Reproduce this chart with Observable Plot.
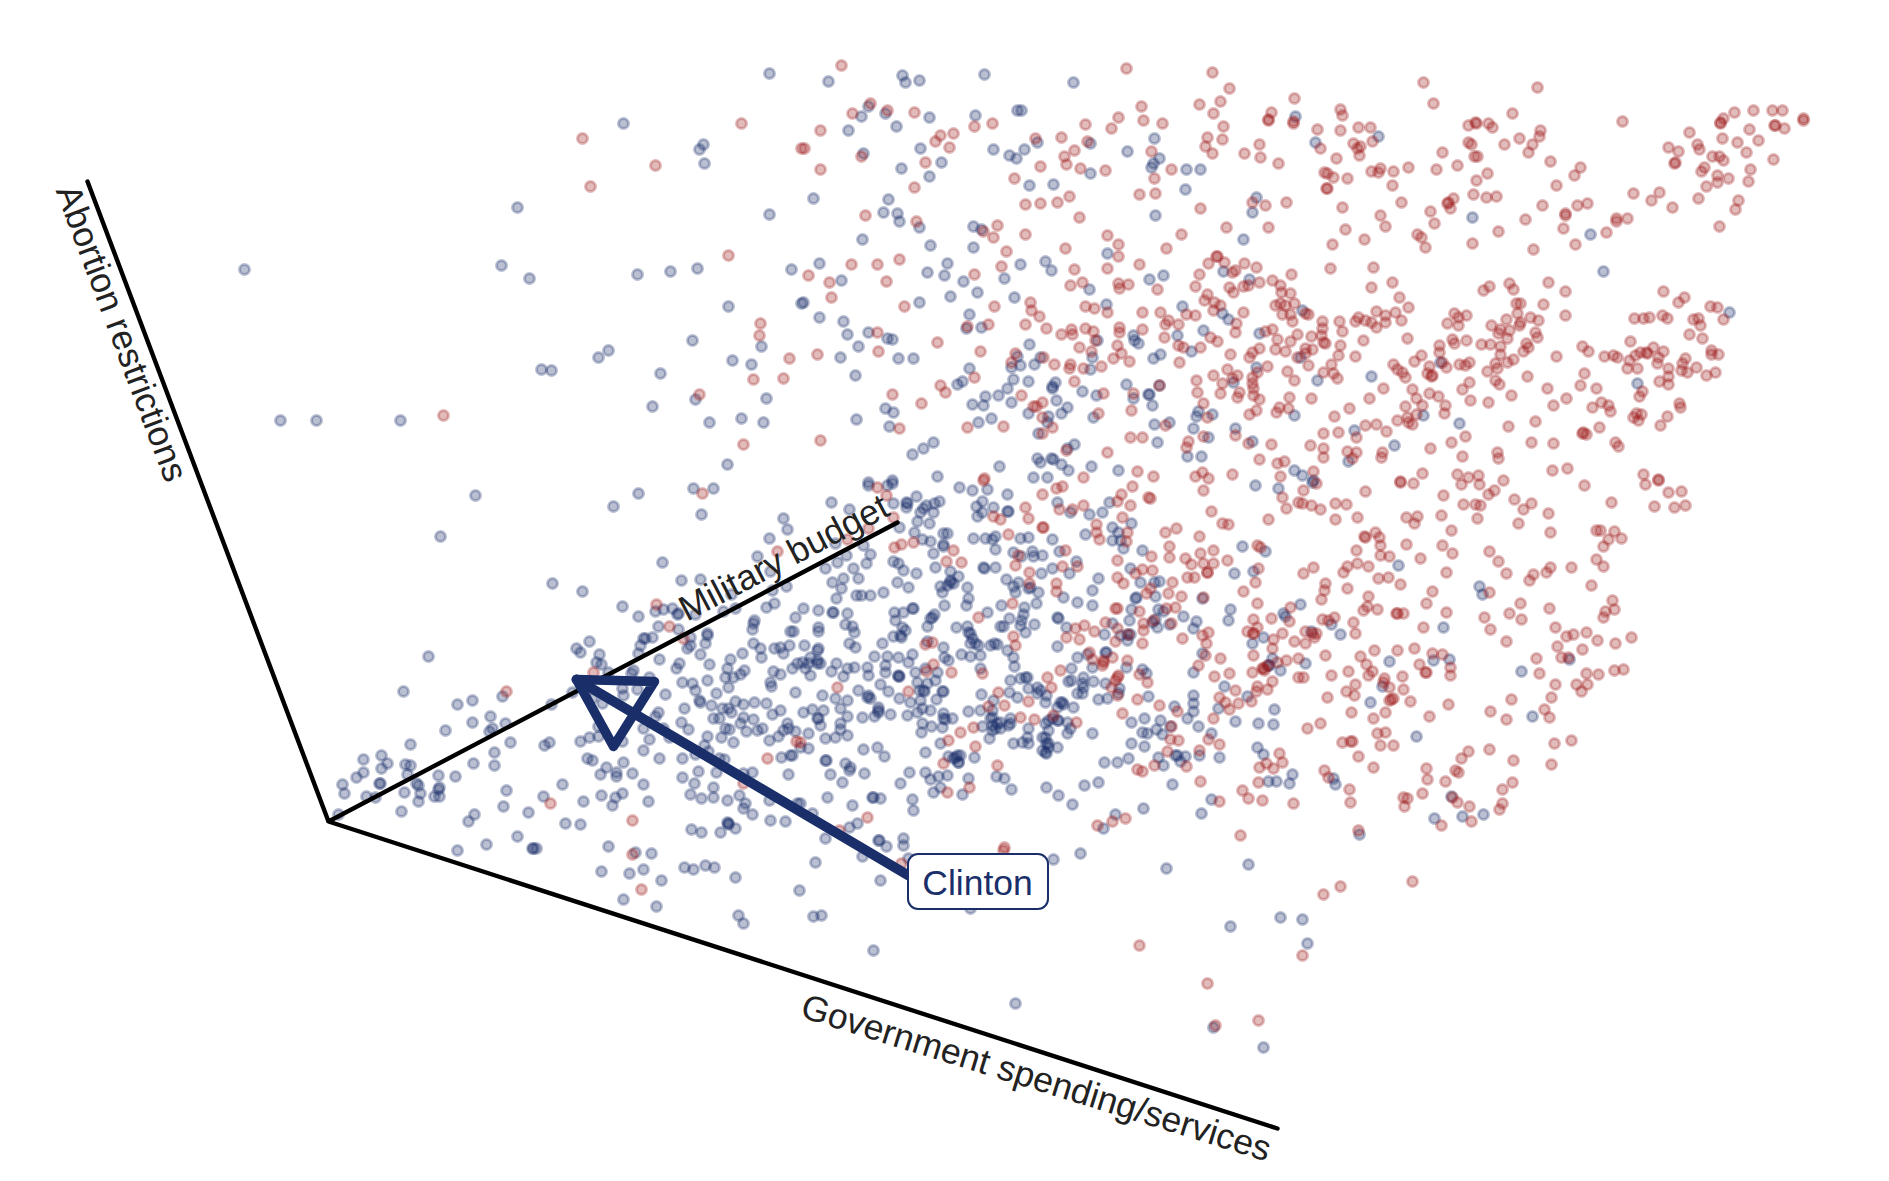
<!DOCTYPE html>
<html>
<head>
<meta charset="utf-8">
<script src="https://cdn.jsdelivr.net/npm/d3@7"></script>
<script src="https://cdn.jsdelivr.net/npm/@observablehq/plot@0.6"></script>
<style>html,body{margin:0;padding:0;background:#fff;overflow:hidden}svg{display:block}</style>
</head>
<body>
<div id="chart"></div>
<script>
const demUpperLeft = [[769,73],[623,123],[703,144],[699,149],[704,163],[517,207],[769,214],[244,269],[501,265],[529,278],[637,274],[670,271],[697,268],[791,269],[728,306],[801,303],[692,340],[761,346],[732,360],[751,364],[608,350],[598,357],[541,369],[551,370],[660,373],[695,399],[766,398],[652,406],[709,422],[741,418],[763,422],[280,420],[316,420],[400,420],[727,464]];
const repUpperLeft = [[582,138],[741,123],[801,148],[655,165],[590,186],[728,255],[760,323],[759,335],[789,358],[753,379],[783,378],[699,394],[443,415],[743,444]];
const demLowerLeft = [[475,495],[440,536],[613,506],[638,493],[693,488],[713,488],[701,514],[783,518],[787,529],[769,538],[662,562],[757,556],[552,583],[582,591],[681,580],[700,579],[770,571],[731,594],[786,586],[772,590],[766,607],[774,603],[622,606],[638,616],[655,611],[663,609],[672,608],[678,613],[677,614],[695,614],[723,611],[735,608],[658,626],[678,629],[643,638],[645,638],[652,637],[640,645],[690,637],[707,635],[707,633],[705,643],[687,648],[690,645],[753,643],[760,648],[761,657],[754,620],[753,623],[752,629],[795,617],[790,631],[793,631],[774,648],[780,647],[789,645],[783,653],[742,653],[730,659],[700,654],[709,664],[659,659],[679,663],[676,668],[638,653],[589,641],[576,648],[580,652],[599,654],[596,662],[601,664],[428,656],[727,668],[725,677],[733,677],[740,674],[744,670],[773,671],[780,674],[792,668],[797,663],[633,670],[631,673],[608,672],[649,677],[682,682],[692,683],[695,690],[707,680],[728,687],[770,682],[771,686],[716,693],[622,688],[637,689],[623,695],[665,694],[699,700],[700,702],[684,708],[711,705],[722,708],[728,708],[735,701],[743,704],[754,702],[766,703],[795,692],[731,712],[780,710],[743,717],[753,719],[772,714],[713,718],[719,718],[681,722],[658,712],[655,716],[740,723],[746,731],[757,730],[762,728],[725,728],[729,729],[688,729],[707,736],[721,737],[733,742],[769,740],[778,736],[787,723],[788,728],[783,730],[795,731],[643,728],[663,728],[649,739],[669,737],[704,745],[708,751],[643,750],[659,758],[682,758],[695,754],[719,758],[724,759],[781,757],[790,755],[792,755],[788,774],[698,771],[682,777],[716,772],[743,773],[752,772],[694,783],[713,787],[713,797],[690,794],[701,798],[727,800],[739,795],[745,803],[743,808],[752,814],[770,820],[785,821],[769,800],[797,803],[727,822],[728,823],[735,828],[691,829],[701,832],[720,832],[403,691],[457,704],[472,700],[502,696],[551,704],[572,692],[490,716],[472,722],[505,723],[492,728],[489,731],[445,730],[410,744],[510,742],[549,742],[544,745],[580,741],[589,737],[598,736],[598,726],[602,703],[592,698],[622,741],[494,752],[381,755],[363,759],[387,763],[381,768],[363,772],[356,777],[405,764],[410,765],[407,774],[473,763],[494,765],[438,775],[455,776],[342,784],[380,783],[379,783],[416,783],[418,785],[439,787],[438,789],[344,793],[366,796],[375,797],[404,792],[420,793],[418,801],[434,796],[439,796],[401,811],[338,814],[506,790],[503,806],[543,796],[562,784],[583,801],[528,812],[474,814],[468,821],[601,795],[615,797],[622,793],[612,805],[648,801],[600,774],[616,772],[616,776],[632,773],[643,784],[606,767],[623,762],[587,758],[592,760],[565,823],[580,824],[517,836]];
const repLowerLeft = [[702,493],[777,551],[656,604],[669,626],[683,638],[593,672],[506,691],[796,741],[767,758],[743,783],[550,803],[632,820]];
const demCentreLeft = [[831,502],[849,509],[868,485],[887,485],[892,483],[893,503],[906,502],[907,503],[916,496],[906,507],[926,505],[934,503],[939,501],[923,508],[920,512],[933,512],[917,521],[929,523],[899,527],[914,532],[959,487],[972,490],[987,489],[1007,494],[982,501],[976,506],[993,507],[1007,511],[1008,511],[977,516],[982,512],[973,538],[985,538],[992,539],[995,536],[995,549],[943,533],[947,533],[943,544],[943,546],[922,539],[930,541],[933,553],[983,567],[984,568],[995,567],[935,567],[950,571],[958,576],[950,580],[953,583],[940,586],[947,585],[967,587],[942,592],[968,598],[966,605],[944,605],[833,612],[832,612],[818,610],[803,608],[847,613],[845,624],[852,626],[854,632],[853,568],[843,578],[858,578],[832,582],[841,588],[836,598],[856,595],[861,595],[870,595],[883,592],[897,582],[908,587],[916,573],[903,570],[898,563],[893,561],[870,554],[866,563],[846,555],[837,562],[825,568],[835,543],[863,545],[894,612],[903,612],[912,608],[913,608],[895,620],[902,627],[905,630],[900,635],[901,637],[893,636],[927,626],[930,618],[932,617],[934,614],[956,627],[967,626],[970,633],[975,643],[972,638],[978,645],[990,645],[997,644],[994,643],[961,654],[970,656],[980,655],[1007,650],[1013,657],[1014,666],[980,668],[943,647],[944,657],[948,660],[927,641],[882,643],[874,656],[887,656],[898,657],[908,662],[912,654],[885,665],[885,672],[898,676],[899,676],[915,672],[925,668],[937,672],[935,680],[927,683],[917,682],[880,684],[888,691],[919,690],[924,691],[943,691],[942,691],[899,698],[910,702],[920,700],[936,699],[868,695],[867,697],[870,698],[858,690],[878,707],[878,712],[890,714],[874,716],[862,717],[907,715],[917,712],[922,708],[930,710],[943,713],[945,719],[952,718],[922,723],[931,726],[921,732],[942,727],[940,743],[925,752],[957,755],[953,758],[948,756],[960,755],[958,762],[974,757],[968,778],[947,775],[938,776],[930,779],[925,772],[909,772],[900,783],[940,787],[933,792],[962,794],[877,747],[884,756],[863,749],[864,773],[845,763],[850,767],[849,770],[842,782],[830,774],[825,760],[826,760],[827,797],[872,797],[873,797],[880,798],[852,805],[912,799],[913,810],[857,823],[849,827],[812,813],[800,803],[903,838],[878,840],[825,838],[817,650],[818,648],[804,645],[817,660],[810,657],[802,662],[808,663],[817,663],[820,663],[805,668],[810,675],[831,671],[836,663],[847,668],[843,676],[854,667],[867,667],[868,675],[822,695],[835,698],[847,700],[840,708],[812,709],[823,710],[803,712],[817,718],[820,725],[847,716],[840,723],[840,729],[808,733],[847,735],[835,737],[825,738],[808,748],[800,747],[818,627],[818,631],[849,643],[855,647]];
const demCentreRight = [[1020,538],[1028,537],[1013,552],[1032,551],[1021,556],[1033,556],[1042,555],[1052,539],[1059,551],[1052,568],[1041,573],[1069,573],[1076,561],[1006,579],[1018,582],[1015,592],[1013,586],[1028,588],[1038,592],[1036,603],[1024,607],[1023,614],[1021,620],[1001,605],[987,612],[1009,618],[1000,626],[1003,626],[1034,624],[1020,625],[1025,632],[1057,617],[1058,618],[1077,602],[1092,605],[1092,590],[1098,578],[1063,597],[1057,502],[1070,512],[1089,514],[1102,512],[1109,502],[1085,534],[1112,527],[1112,540],[1118,532],[1120,540],[1123,548],[1131,523],[1142,550],[1130,568],[1140,582],[1154,582],[1159,581],[1155,596],[1135,598],[1136,597],[1131,609],[1158,609],[1163,611],[1129,620],[1152,622],[1155,619],[1157,627],[1183,616],[1196,621],[1193,628],[1169,624],[1130,634],[1120,635],[1127,634],[1104,634],[1112,623],[1066,627],[1127,640],[1057,646],[1077,657],[1106,652],[1105,652],[1092,667],[1087,654],[1071,668],[1126,667],[1142,669],[1146,673],[1093,681],[1083,677],[1068,681],[1071,680],[1082,683],[1083,687],[1077,693],[1082,693],[1105,683],[1119,688],[1098,699],[1107,698],[1118,693],[1148,696],[1060,702],[1063,704],[1045,702],[1037,687],[1037,693],[1046,695],[1028,688],[1025,677],[1020,678],[1010,680],[1027,677],[1017,697],[1009,692],[981,694],[993,700],[992,710],[980,710],[968,711],[990,718],[1010,718],[1008,725],[992,725],[995,728],[1000,728],[982,726],[989,738],[1028,728],[1027,737],[1028,743],[1013,743],[1022,742],[1045,723],[1048,730],[1045,737],[1046,743],[1045,752],[1057,747],[1048,747],[1062,702],[1058,720],[1067,722],[1070,728],[1067,733],[1073,707],[1092,733],[1046,753],[1040,690]];
const demDenseCores = [[992,717],[997,723],[992,730],[1000,722],[1010,723],[970,643],[968,632],[923,690],[898,675],[943,718],[955,757],[958,762],[1057,707],[1057,720],[1052,718],[1048,720],[1042,737],[1048,743],[1042,750],[1030,587],[950,582],[878,710],[818,718],[1269,665]];
const demEastBand = [[1255,485],[1278,488],[1242,546],[1265,551],[1234,573],[1253,571],[1230,609],[1228,620],[1202,598],[1202,653],[1193,672],[1224,686],[1247,696],[1218,708],[1235,721],[1258,723],[1273,724],[1274,709],[1198,726],[1187,718],[1193,695],[1193,703],[1193,711],[1174,706],[1160,720],[1144,718],[1131,722],[1142,732],[1147,733],[1156,729],[1162,734],[1170,726],[1131,743],[1144,746],[1158,757],[1175,755],[1177,755],[1185,756],[1180,761],[1163,765],[1128,758],[1117,762],[1104,762],[1211,733],[1199,755],[1219,757],[1257,747],[1263,754],[1292,774],[1289,783],[1276,781],[1268,781],[1172,784],[1084,785],[1098,782],[1046,787],[1058,795],[1072,804],[1011,789],[1004,778],[996,776],[1143,808],[1115,814],[1103,828],[1211,799],[1201,813],[1263,637],[1252,643],[1283,613],[1285,616],[1272,658],[1268,665],[1280,670]];
const repCentre = [[877,487],[886,495],[893,517],[868,528],[847,539],[894,547],[901,544],[913,542],[953,550],[961,562],[946,561],[983,480],[993,516],[1000,519],[1008,534],[1025,507],[1028,518],[1042,494],[1043,527],[1042,527],[1056,488],[1062,486],[1083,505],[1072,509],[1059,509],[1018,555],[1015,565],[1029,572],[1029,583],[1065,550],[1062,566],[1077,566],[1056,583],[1056,591],[1012,603],[978,617],[925,644],[932,642],[933,664],[926,671],[951,672],[982,673],[908,691],[837,687],[1013,636],[1015,645],[998,692],[988,706],[1004,705],[1028,701],[1047,677],[1051,687],[1060,670],[1020,717],[1034,719],[1053,715],[1076,722],[973,727],[960,732],[948,740],[975,746],[943,763],[997,765],[969,787],[947,792],[867,817],[839,830],[800,742],[1132,486],[1121,494],[1117,501],[1130,505],[1122,517],[1096,524],[1096,532],[1099,539],[1127,532],[1126,541],[1148,497],[1150,498],[1151,556],[1117,560],[1117,577],[1123,583],[1142,569],[1152,570],[1135,573],[1172,582],[1150,588],[1146,593],[1168,593],[1181,596],[1175,607],[1166,608],[1117,608],[1115,608],[1139,611],[1105,622],[1117,628],[1143,623],[1143,630],[1153,620],[1171,623],[1075,628],[1084,625],[1094,631],[1066,637],[1079,639],[1115,641],[1128,634],[1142,643],[1182,638],[1089,652],[1092,659],[1112,657],[1103,660],[1102,665],[1127,660],[1118,675],[1115,680],[1111,687],[1117,695],[1139,674],[1147,682],[1137,699],[1159,705],[1122,713],[1177,711],[1171,726],[1170,739],[1178,740],[1167,751],[1186,766],[1154,765],[1137,769],[1142,771],[1213,718],[1208,739],[1219,744],[1199,750],[1200,781],[1219,801],[1097,825],[1112,821],[1125,818],[1240,835],[1242,790],[1248,798],[1262,800],[1293,803],[1258,782],[1259,767],[1266,763],[1273,768],[1282,762],[1279,753],[1203,490],[1211,511],[1222,523],[1228,524],[1268,519],[1282,497],[1286,508],[1298,502],[1176,528],[1165,532],[1199,536],[1169,546],[1169,557],[1185,558],[1191,564],[1200,553],[1213,550],[1213,563],[1203,563],[1207,572],[1187,577],[1194,577],[1227,560],[1257,545],[1260,547],[1258,568],[1255,582],[1243,591],[1257,603],[1203,597],[1202,635],[1208,632],[1206,643],[1205,655],[1198,665],[1220,658],[1214,676],[1229,673],[1235,690],[1219,697],[1225,702],[1229,709],[1238,703],[1251,701],[1257,686],[1256,691],[1267,689],[1272,681],[1252,672],[1262,668],[1264,670],[1267,665],[1277,662],[1286,660],[1298,658],[1253,655],[1272,648],[1273,639],[1282,633],[1294,641],[1247,631],[1253,633],[1253,619],[1257,627],[1271,618],[1290,607],[1289,621],[1298,677]];
const repDenseCores = [[1103,662],[1117,677],[1263,668],[1253,633],[1207,572]];
const demSouthEast = [[1312,482],[1398,565],[1479,586],[1482,594],[1331,624],[1340,634],[1311,631],[1443,627],[1300,604],[1389,661],[1433,660],[1449,659],[1305,663],[1569,659],[1521,671],[1382,686],[1370,702],[1532,716],[1416,736],[1333,778],[1335,784],[1451,796],[1434,818],[1462,816],[1483,814],[1359,834]];
const repSouthEast = [[1303,490],[1316,483],[1365,491],[1400,482],[1413,483],[1443,495],[1461,484],[1479,484],[1488,494],[1494,490],[1503,480],[1584,485],[1645,484],[1658,480],[1668,492],[1681,491],[1611,502],[1654,506],[1674,507],[1685,505],[1302,503],[1311,505],[1320,509],[1335,503],[1346,504],[1335,519],[1357,517],[1406,517],[1417,516],[1414,523],[1441,515],[1463,504],[1475,504],[1480,505],[1514,499],[1523,509],[1531,503],[1548,513],[1477,518],[1518,523],[1550,532],[1451,530],[1375,532],[1364,536],[1365,537],[1379,537],[1380,545],[1356,550],[1380,555],[1389,556],[1406,544],[1442,545],[1452,553],[1489,551],[1420,558],[1498,561],[1446,572],[1506,573],[1313,567],[1347,566],[1357,563],[1368,566],[1343,572],[1303,573],[1378,578],[1388,577],[1400,584],[1325,583],[1324,590],[1321,599],[1347,588],[1368,596],[1432,591],[1426,603],[1367,606],[1363,610],[1377,609],[1396,613],[1397,613],[1403,613],[1446,612],[1489,592],[1520,603],[1509,613],[1521,619],[1484,617],[1490,629],[1506,641],[1423,627],[1322,619],[1328,620],[1334,617],[1353,622],[1355,633],[1305,631],[1312,633],[1316,633],[1314,637],[1305,643],[1325,655],[1360,656],[1374,650],[1397,650],[1414,648],[1432,653],[1442,654],[1419,664],[1425,672],[1426,672],[1450,667],[1450,675],[1402,676],[1366,664],[1372,671],[1368,675],[1348,671],[1331,675],[1303,677],[1355,684],[1384,678],[1383,682],[1389,687],[1403,689],[1346,691],[1354,695],[1327,697],[1391,699],[1393,698],[1389,700],[1410,701],[1448,704],[1351,712],[1385,712],[1373,718],[1429,716],[1320,723],[1307,728],[1377,733],[1385,732],[1342,742],[1350,741],[1352,741],[1380,745],[1393,745],[1358,756],[1373,767],[1324,770],[1328,777],[1349,789],[1350,802],[1358,830],[1468,751],[1489,749],[1461,758],[1513,760],[1426,768],[1455,770],[1458,772],[1427,779],[1445,781],[1422,793],[1512,782],[1502,789],[1502,803],[1499,809],[1407,798],[1403,797],[1404,806],[1452,797],[1457,802],[1469,806],[1471,821],[1441,825],[1490,711],[1506,719],[1511,699],[1544,709],[1549,717],[1551,697],[1555,684],[1539,673],[1536,658],[1561,657],[1568,657],[1557,646],[1555,627],[1566,636],[1573,634],[1586,632],[1597,640],[1582,649],[1615,643],[1631,637],[1603,617],[1605,611],[1614,609],[1612,600],[1549,608],[1591,585],[1596,559],[1603,566],[1571,567],[1550,567],[1546,572],[1533,574],[1529,580],[1603,546],[1608,539],[1621,538],[1614,531],[1596,530],[1600,530],[1586,673],[1598,674],[1614,670],[1623,669],[1587,684],[1576,684],[1581,691],[1554,743],[1571,740],[1551,764],[1412,881]];
const demNorthCentre = [[848,130],[896,126],[863,153],[920,148],[901,168],[941,162],[929,176],[813,198],[888,199],[883,212],[897,213],[899,221],[862,239],[919,227],[930,245],[993,149],[1009,155],[1016,158],[1024,149],[1037,142],[1090,143],[1090,173],[1127,151],[1154,138],[1159,158],[1153,163],[1151,167],[1186,169],[1200,169],[1185,189],[1155,215],[1029,185],[1053,184],[973,226],[981,229],[973,247],[1256,197],[1252,212],[1243,239],[1107,253],[1020,264],[1045,261],[1051,270],[947,263],[944,275],[927,272],[819,263],[841,280],[963,281],[1004,278],[977,292],[950,296],[1014,297],[803,302],[919,302],[1089,289],[1106,304],[1149,279],[1163,275],[1223,271],[1249,279],[1182,306],[1222,313],[1228,319],[1203,330],[1177,335],[1191,351],[1259,333],[1133,335],[1134,340],[1138,343],[1097,340],[1029,344],[819,317],[843,321],[847,334],[868,332],[887,338],[892,339],[858,346],[840,357],[898,358],[913,358],[855,375],[969,314],[966,328],[981,327],[1017,356],[1011,367],[1020,365],[1034,364],[1040,357],[1092,357],[1090,369],[1153,358],[1160,354],[969,368],[1013,379],[1028,381],[1007,388],[998,395],[957,384],[962,381],[985,396],[972,404],[983,405],[1011,402],[1055,382],[1052,386],[1052,388],[1082,391],[1096,395],[1126,384],[1148,394],[1149,394],[1133,398],[1152,405],[1159,385],[1256,367],[1233,382],[885,408],[893,412],[856,419],[889,426],[978,422],[991,418],[1028,413],[1056,400],[1067,407],[1061,413],[1048,416],[1047,422],[1093,417],[1154,424],[1169,422],[1198,411],[1196,416],[1212,414],[1193,428],[1208,437],[1235,428],[1157,442],[1252,441],[1294,415],[1038,433],[933,442],[923,448],[912,454],[1074,444],[1067,448],[1037,458],[1040,462],[1051,458],[1053,459],[1061,464],[1068,470],[1091,466],[1118,470],[999,466],[937,476],[1187,456],[1201,456],[1294,470],[892,480],[868,482],[1033,477],[1047,477]];
const repNorthCentre = [[820,130],[804,148],[861,156],[820,169],[935,141],[940,135],[953,133],[974,126],[992,123],[949,147],[925,162],[914,187],[865,215],[916,221],[997,225],[983,231],[993,237],[1025,234],[1014,178],[1040,166],[1035,138],[1061,137],[1064,156],[1066,164],[1074,150],[1080,168],[1087,141],[1105,170],[1085,124],[1111,128],[1143,120],[1162,123],[1223,126],[1207,137],[1222,139],[1205,146],[1212,153],[1151,151],[1171,169],[1154,178],[1139,194],[1155,193],[1025,204],[1040,203],[1057,202],[1069,196],[1079,217],[1200,208],[1252,202],[1265,205],[1286,202],[1226,227],[1268,227],[1181,234],[1244,153],[1259,144],[1260,157],[1278,163],[1268,120],[1293,123],[1065,248],[1107,235],[1118,244],[1118,256],[1166,248],[1139,264],[1107,268],[1074,269],[1006,251],[1001,266],[974,274],[851,264],[877,264],[899,259],[808,275],[829,282],[886,281],[831,297],[904,306],[994,306],[1070,285],[1082,282],[1118,283],[1128,284],[1119,288],[1157,289],[1199,274],[1195,286],[1208,263],[1216,256],[1217,256],[1224,262],[1232,272],[1235,270],[1244,263],[1256,267],[1259,282],[1229,287],[1233,292],[1243,286],[1248,285],[1272,280],[1291,274],[1280,285],[1281,292],[1290,293],[1207,294],[1204,300],[1214,302],[1220,305],[1213,310],[1243,312],[1275,305],[1280,303],[1285,305],[1294,303],[1282,314],[1290,314],[1292,321],[1236,323],[1235,332],[1265,331],[1272,329],[1297,334],[1277,339],[1290,341],[1259,348],[1275,349],[1285,351],[1297,357],[1252,352],[1249,357],[1230,354],[1210,337],[1217,341],[1200,347],[1178,345],[1183,347],[1179,362],[1164,337],[1142,329],[1142,312],[1160,312],[1168,320],[1165,324],[1178,324],[1186,314],[1195,315],[1085,306],[1094,308],[1107,312],[1030,302],[1031,310],[1039,316],[1025,324],[1046,328],[1061,334],[1071,329],[1072,334],[1085,328],[1093,331],[1095,340],[1119,327],[1119,332],[1117,345],[1121,353],[1113,358],[1129,361],[1079,347],[1091,351],[1070,364],[1069,368],[1083,368],[1101,366],[1054,364],[1043,357],[1015,353],[1011,362],[988,324],[967,326],[937,342],[980,351],[877,332],[878,351],[817,354],[974,377],[940,385],[945,392],[892,394],[921,403],[1021,395],[1074,381],[1103,393],[1133,393],[1159,385],[1042,402],[1033,406],[1036,406],[1042,417],[1052,427],[1042,433],[1098,413],[1131,410],[1003,426],[967,427],[899,428],[820,440],[1130,437],[1142,437],[1165,425],[1203,403],[1207,417],[1203,436],[1188,441],[1186,447],[1235,435],[1248,443],[1271,444],[1066,450],[1107,452],[1259,459],[1277,463],[1284,461],[1137,471],[1153,476],[1202,472],[1195,476],[1232,474],[1280,476],[1083,477],[984,478],[1208,478],[1196,380],[1197,392],[1213,375],[1222,383],[1220,393],[1227,369],[1232,378],[1237,375],[1239,392],[1237,397],[1252,377],[1252,383],[1253,388],[1253,395],[1259,399],[1257,372],[1267,366],[1287,371],[1294,380],[1289,397],[1279,407],[1288,408],[1276,412],[1256,410],[1249,414]];
const demNorthEast = [[1315,142],[1378,136],[1472,217],[1590,234],[1603,271],[1729,312],[1302,310],[1440,362],[1300,357],[1317,380],[1371,376],[1637,383],[1423,415],[1459,423],[1354,430],[1394,445],[1348,461],[1302,475],[1313,480]];
const repNorthEast = [[1317,129],[1340,130],[1358,127],[1370,127],[1353,143],[1320,148],[1372,141],[1360,146],[1357,148],[1359,155],[1336,158],[1324,172],[1327,173],[1333,177],[1347,178],[1371,171],[1378,172],[1380,168],[1393,171],[1408,167],[1436,169],[1457,165],[1326,188],[1327,188],[1392,185],[1442,152],[1468,125],[1476,123],[1488,123],[1492,127],[1468,142],[1471,144],[1474,156],[1477,156],[1504,144],[1519,138],[1532,144],[1539,136],[1540,130],[1528,152],[1550,161],[1580,167],[1574,175],[1487,173],[1476,180],[1556,185],[1473,194],[1486,197],[1496,196],[1453,198],[1448,202],[1447,203],[1450,208],[1401,202],[1342,207],[1380,215],[1385,226],[1345,229],[1364,239],[1332,244],[1430,211],[1434,223],[1417,234],[1421,237],[1425,247],[1472,243],[1498,231],[1525,219],[1542,205],[1565,213],[1565,215],[1577,205],[1587,203],[1563,228],[1575,244],[1533,249],[1606,232],[1616,218],[1616,221],[1627,218],[1633,193],[1651,200],[1659,192],[1672,207],[1698,198],[1719,226],[1735,209],[1738,200],[1706,186],[1717,182],[1717,175],[1728,178],[1748,181],[1750,169],[1701,171],[1704,167],[1674,163],[1675,162],[1668,147],[1678,151],[1697,144],[1699,149],[1689,132],[1712,156],[1719,156],[1723,160],[1720,123],[1722,138],[1737,142],[1749,129],[1758,140],[1746,152],[1773,159],[1774,125],[1784,128],[1803,120],[1622,121],[1330,268],[1373,267],[1371,287],[1392,282],[1399,297],[1408,307],[1395,312],[1376,311],[1385,315],[1385,322],[1358,317],[1355,321],[1365,320],[1371,322],[1376,327],[1401,320],[1305,313],[1308,314],[1322,321],[1339,321],[1342,331],[1322,328],[1311,336],[1321,335],[1323,342],[1325,343],[1363,340],[1407,338],[1340,345],[1338,355],[1355,356],[1312,349],[1305,348],[1305,353],[1308,365],[1331,364],[1323,372],[1333,373],[1337,378],[1393,364],[1397,369],[1402,372],[1405,377],[1414,361],[1421,355],[1429,366],[1427,373],[1431,376],[1432,375],[1439,345],[1439,352],[1442,362],[1446,367],[1459,364],[1465,365],[1469,362],[1454,343],[1452,339],[1466,340],[1481,344],[1490,344],[1500,346],[1500,354],[1495,363],[1487,371],[1497,368],[1507,362],[1513,359],[1495,380],[1499,384],[1527,376],[1469,382],[1462,389],[1470,400],[1488,402],[1511,395],[1547,388],[1566,398],[1553,405],[1580,385],[1584,373],[1596,388],[1535,421],[1508,426],[1531,442],[1553,443],[1552,470],[1567,468],[1643,474],[1658,479],[1412,389],[1416,398],[1405,406],[1422,405],[1429,393],[1438,396],[1445,405],[1444,413],[1416,414],[1407,417],[1397,420],[1408,422],[1412,424],[1349,408],[1334,416],[1311,398],[1369,398],[1383,388],[1365,425],[1376,424],[1386,431],[1338,432],[1323,433],[1356,437],[1310,445],[1323,448],[1323,457],[1347,451],[1356,452],[1352,458],[1382,452],[1381,457],[1430,448],[1451,442],[1465,436],[1462,456],[1497,452],[1498,458],[1313,471],[1422,473],[1457,474],[1468,477],[1478,475],[1400,481],[1447,323],[1454,313],[1458,317],[1466,315],[1458,325],[1483,290],[1489,286],[1509,283],[1513,289],[1548,282],[1565,291],[1516,303],[1520,303],[1543,304],[1517,313],[1565,315],[1530,317],[1538,320],[1506,319],[1491,325],[1500,329],[1498,333],[1509,330],[1507,338],[1520,322],[1519,325],[1535,332],[1537,337],[1526,343],[1528,347],[1523,351],[1556,356],[1582,346],[1588,351],[1604,356],[1613,355],[1617,357],[1630,341],[1629,360],[1627,368],[1637,368],[1635,355],[1640,352],[1647,353],[1646,352],[1653,347],[1663,351],[1658,357],[1657,363],[1668,368],[1668,376],[1668,384],[1659,381],[1682,363],[1685,358],[1681,370],[1687,372],[1696,367],[1706,375],[1715,372],[1642,391],[1639,396],[1634,318],[1643,318],[1649,317],[1662,315],[1667,318],[1663,291],[1678,302],[1684,297],[1710,306],[1717,307],[1723,319],[1693,319],[1698,318],[1700,325],[1689,334],[1702,338],[1711,350],[1711,354],[1718,354],[1601,402],[1592,407],[1608,405],[1610,411],[1633,417],[1636,413],[1641,414],[1638,420],[1667,416],[1660,425],[1679,403],[1680,407],[1599,427],[1582,433],[1586,434],[1583,432],[1615,442],[1618,446]];
const demTopRow = [[828,81],[902,75],[905,82],[919,80],[984,74],[1073,82],[868,106],[861,116],[885,113],[929,117],[975,115],[1017,110],[1021,110],[1295,116]];
const repTopRow = [[841,65],[1126,68],[1212,72],[1229,88],[1141,106],[1199,104],[1220,101],[1213,113],[1294,98],[870,103],[852,113],[887,110],[914,112],[1118,117],[1271,112],[1268,119],[1293,121],[1423,82],[1433,103],[1537,87],[1340,109],[1342,115],[1512,113],[1475,122],[1734,112],[1753,110],[1772,110],[1782,110],[1803,118],[1723,118],[1720,122],[1775,125]];
const demBottom = [[879,840],[886,846],[903,845],[862,856],[908,858],[880,880],[1053,859],[1080,853],[1166,868],[1248,864],[1230,926],[1280,917],[1302,919],[1307,943],[873,950],[1015,1003],[1213,1027],[1263,1047],[970,908],[457,850],[486,844],[532,848],[533,848],[536,848],[608,846],[635,852],[651,853],[601,871],[629,873],[643,869],[661,880],[623,899],[656,906],[684,867],[693,869],[705,865],[714,867],[735,877],[738,915],[743,923],[728,824],[815,862],[799,890],[813,916],[821,915]];
const repBottom = [[901,863],[1004,847],[1003,850],[1323,894],[1340,886],[1139,945],[1302,955],[1207,983],[1215,1025],[1258,1020],[632,854],[641,889]];

const democrats = [demUpperLeft, demLowerLeft, demCentreLeft, demCentreRight, demDenseCores, demEastBand, demSouthEast, demNorthCentre, demNorthEast, demTopRow, demBottom].flat();
const republicans = [repUpperLeft, repLowerLeft, repCentre, repDenseCores, repSouthEast, repNorthCentre, repNorthEast, repTopRow, repBottom].flat();

// Projected axes of the 3-D space
const origin = [328, 821];
const abortionEnd = [87, 181];
const militaryEnd = [897, 522];
const spendingEnd = [1277, 1128];
const axisLabels = ["Abortion restrictions", "Military budget", "Government spending/services"];
const axisLabelAnchors = [[55, 190], [891, 514], [1266, 1161]];
const axisLabelAngles = [69.4, -27.7, 17.2];
const axisLabelAlign = ["start", "end", "end"];

// Clinton annotation
const clintonArrow = [[908, 875], [576, 679]];
const clintonHead = [[576, 679], [654, 681], [613, 746], [576, 679]];
const clintonBox = {x1: 908, x2: 1048, y1: 854, y2: 909};
const clintonLabel = {name: "Clinton", x: 977, y: 883};

const BLUE = "#1a2f6a";
const RED = "#a01e1e";
const dotStyle = {x: d => d[0], y: d => d[1], r: 5, strokeWidth: 3, fillOpacity: 0.3, strokeOpacity: 0.3};

const chart = Plot.plot({
  width: 1889,
  height: 1181,
  margin: 0,
  style: {background: "#fff", fontFamily: "'Liberation Sans', Arial, sans-serif"},
  x: {domain: [0, 1889], range: [0, 1889], axis: null},
  y: {domain: [0, 1181], range: [0, 1181], axis: null},
  marks: [
    Plot.dot(democrats, {...dotStyle, fill: BLUE, stroke: BLUE}),
    Plot.dot(republicans, {...dotStyle, fill: RED, stroke: RED}),
    Plot.line([abortionEnd, origin, militaryEnd], {x: d => d[0], y: d => d[1], stroke: "#000", strokeWidth: 4.4, strokeLinejoin: "miter"}),
    Plot.line([origin, spendingEnd], {x: d => d[0], y: d => d[1], stroke: "#000", strokeWidth: 4.4}),
    ...axisLabels.map((label, i) => Plot.text([label], {
      x: [axisLabelAnchors[i][0]], y: [axisLabelAnchors[i][1]],
      text: d => d, rotate: axisLabelAngles[i], textAnchor: axisLabelAlign[i],
      lineAnchor: "bottom", fontSize: 35.5, fill: "#222"
    })),
    Plot.line(clintonArrow, {x: d => d[0], y: d => d[1], stroke: BLUE, strokeWidth: 10}),
    Plot.line(clintonHead, {x: d => d[0], y: d => d[1], stroke: BLUE, strokeWidth: 9.5, strokeLinejoin: "round", strokeLinecap: "round"}),
    Plot.rect([clintonBox], {x1: "x1", x2: "x2", y1: "y1", y2: "y2", fill: "#fff", stroke: BLUE, strokeWidth: 2, rx: 10}),
    Plot.text([clintonLabel], {x: "x", y: "y", text: "name", fontSize: 35.5, fill: BLUE})
  ]
});
document.getElementById("chart").appendChild(chart);
</script>
</body>
</html>
